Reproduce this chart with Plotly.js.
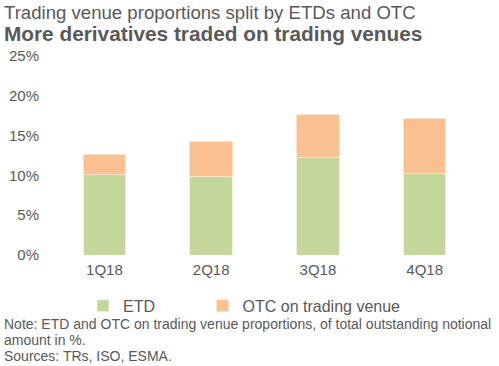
<!DOCTYPE html>
<html>
<head>
<meta charset="utf-8">
<script src="https://cdn.plot.ly/plotly-3.0.1.min.js"></script>
<style>html,body{margin:0;padding:0;background:#fff;}#chart{width:499px;height:366px;}</style>
</head>
<body>
<div id="chart"></div>
<script>
const categories = ["1Q18", "2Q18", "3Q18", "4Q18"];
const etd = [10.1, 9.9, 12.2, 10.3];
const otcVenue = [2.5, 4.4, 5.4, 6.8];
const yTickVals = [0, 5, 10, 15, 20, 25];
const yTickText = ["0%", "5%", "10%", "15%", "20%", "25%"];
const noteLines = [
  "Note: ETD and OTC on trading venue proportions, of total outstanding notional",
  "amount in %.",
  "Sources: TRs, ISO, ESMA."
];

const gray = "#595959";
const fontFam = "Liberation Sans, Arial, sans-serif";

const traces = [
  {type: "bar", name: "ETD", x: categories, y: etd, legend: "legend",
   marker: {color: "#C4D79B", line: {color: "#EEF3E0", width: 1}}},
  {type: "bar", name: "OTC on trading venue", x: categories, y: otcVenue, legend: "legend2",
   marker: {color: "#FAC090", line: {color: "#FDE3CC", width: 1}}}
];

const annotations = [
  {text: "Trading venue proportions split by ETDs and OTC", xref: "paper", yref: "paper",
   x: 0, xshift: -49, y: 1, yshift: 44, xanchor: "left", yanchor: "middle", showarrow: false,
   font: {size: 18.6, color: gray, family: fontFam}},
  {text: "<b>More derivatives traded on trading venues</b>", xref: "paper", yref: "paper",
   x: 0, xshift: -49, y: 1, yshift: 23, xanchor: "left", yanchor: "middle", showarrow: false,
   font: {size: 20.8, color: gray, family: fontFam}}
];
noteLines.forEach((t, i) => {
  annotations.push({text: t, xref: "paper", yref: "paper", x: 0, xshift: -49, y: 0,
    yshift: -69 - i * 16, xanchor: "left", yanchor: "middle", align: "left", showarrow: false,
    font: {size: 14, color: gray, family: fontFam}});
});

const legendBase = {orientation: "h", y: -0.17, xanchor: "left", yanchor: "top",
                    font: {size: 16, color: gray}, itemwidth: 30, bgcolor: "rgba(0,0,0,0)"};

const layout = {
  width: 499, height: 366,
  barmode: "stack",
  bargap: 0.6,
  paper_bgcolor: "#fff", plot_bgcolor: "#fff",
  margin: {l: 51, r: 21, t: 56, b: 111},
  font: {family: fontFam, color: gray, size: 14},
  showlegend: true,
  legend: Object.assign({}, legendBase, {x: 0.075}),
  legend2: Object.assign({}, legendBase, {x: 0.355}),
  xaxis: {showgrid: false, showline: false, zeroline: false, ticks: "", ticklabelstandoff: 4,
          tickfont: {size: 15, color: gray}},
  yaxis: {range: [0, 25], tickvals: yTickVals, ticktext: yTickText, showgrid: false,
          zeroline: false, showline: false, ticks: "", ticklabelstandoff: 11,
          tickfont: {size: 15, color: gray}},
  annotations: annotations
};

Plotly.newPlot("chart", traces, layout, {displayModeBar: false, staticPlot: true});
</script>
</body>
</html>
